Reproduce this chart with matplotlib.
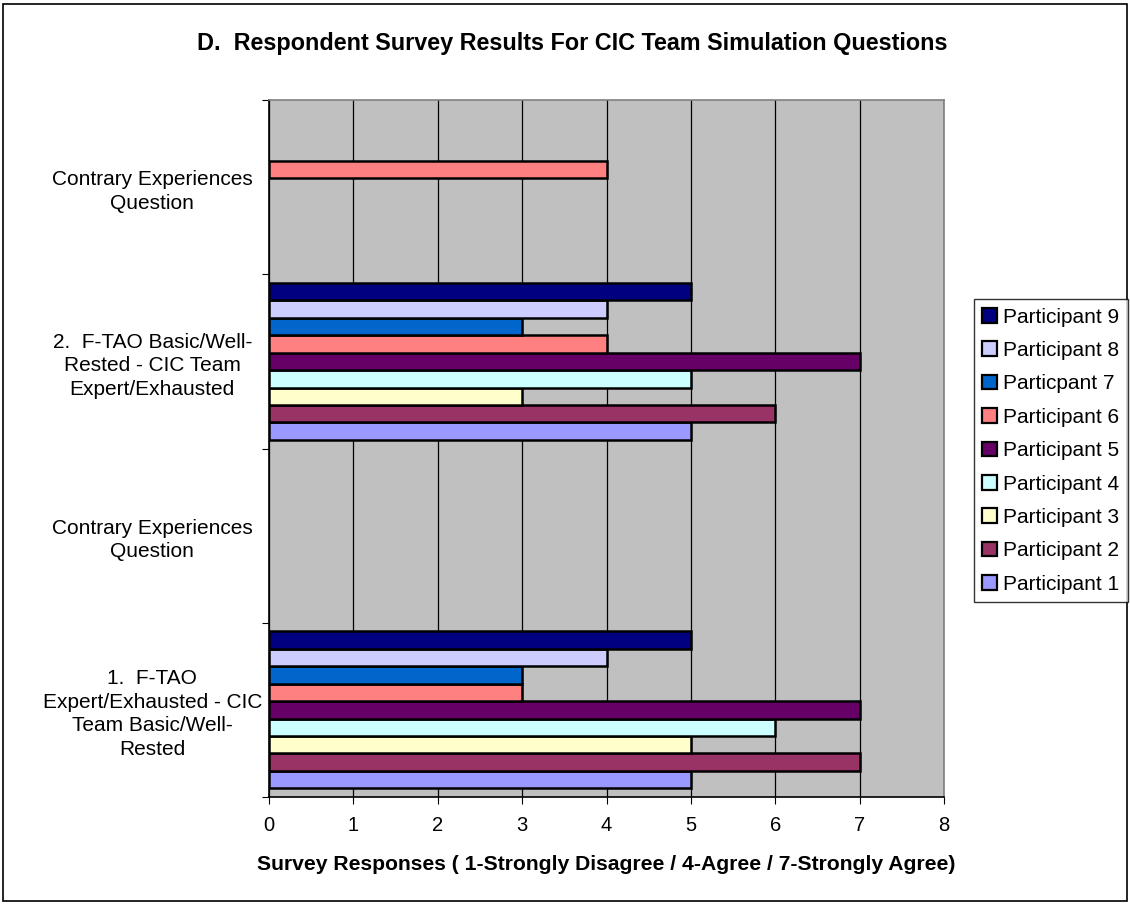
import numpy as np
import matplotlib.pyplot as plt
from matplotlib.patches import Rectangle

plt.rcParams['font.family'] = ['Liberation Sans', 'DejaVu Sans']

categories = ['1.  F-TAO\nExpert/Exhausted - CIC\nTeam Basic/Well-\nRested',
              'Contrary Experiences\nQuestion',
              '2.  F-TAO Basic/Well-\nRested - CIC Team\nExpert/Exhausted',
              'Contrary Experiences\nQuestion']
participants = ['Participant 1', 'Participant 2', 'Participant 3', 'Participant 4',
                'Participant 5', 'Participant 6', 'Particpant 7', 'Participant 8',
                'Participant 9']
# one list per participant, values for the four categories (None = no answer)
p1 = [5, None, 5, None]
p2 = [7, None, 6, None]
p3 = [5, None, 3, None]
p4 = [6, None, 5, None]
p5 = [7, None, 7, None]
p6 = [3, None, 4, 4]
p7 = [3, None, 3, None]
p8 = [4, None, 4, None]
p9 = [5, None, 5, None]
values = [p1, p2, p3, p4, p5, p6, p7, p8, p9]
colors = ['#9999FF', '#993366', '#FFFFCC', '#CCFFFF', '#660066',
          '#FF8080', '#0066CC', '#CCCCFF', '#000080']

fig = plt.figure(figsize=(11.3, 9.05), dpi=100)
ax = fig.add_axes([0.238, 0.1193, 0.5975, 0.7702])
ax.set_facecolor('#C0C0C0')

h = 0.1
handles = []
for i, (name, vals, c) in enumerate(zip(participants, values, colors)):
    ys = [k + (i - 4) * h for k, v in enumerate(vals) if v is not None]
    ws = [v for v in vals if v is not None]
    ax.barh(ys, ws, height=h, color=c, edgecolor='black', linewidth=1.8, zorder=3)
    handles.append(Rectangle((0, 0), 1, 1, facecolor=c, edgecolor='black', linewidth=1.6))

ax.set_xlim(0, 8)
ax.set_ylim(-0.5, 3.5)
ax.set_xticks(range(9))
ax.tick_params(axis='x', labelsize=14.5, length=5, direction='out', pad=9)
ax.xaxis.grid(True, color='black', linewidth=0.9, zorder=1)

ax.set_yticks([-0.5, 0.5, 1.5, 2.5, 3.5])
ax.set_yticklabels([])
ax.set_yticks(range(4), minor=True)
ax.set_yticklabels(categories, minor=True, fontsize=15, ha='center', linespacing=1.3)
ax.tick_params(axis='y', which='major', length=5, direction='out')
ax.tick_params(axis='y', which='minor', length=0, pad=84)

ax.spines['left'].set_color('black')
ax.spines['bottom'].set_color('black')
ax.spines['top'].set_color('#808080')
ax.spines['right'].set_color('#808080')
for s in ax.spines.values():
    s.set_linewidth(1.2)

ax.set_xlabel('Survey Responses ( 1-Strongly Disagree / 4-Agree / 7-Strongly Agree)',
              fontsize=15.2, fontweight='bold', labelpad=14)
fig.text(0.506, 0.952, 'D.  Respondent Survey Results For CIC Team Simulation Questions',
         ha='center', va='center', fontsize=16.8, fontweight='bold')

leg = fig.legend(handles[::-1], participants[::-1], loc='center left',
                 bbox_to_anchor=(0.862, 0.502), fontsize=15, frameon=True,
                 fancybox=False, edgecolor='black', handlelength=0.7,
                 handleheight=0.7, handletextpad=0.3, labelspacing=0.69,
                 borderpad=0.4, borderaxespad=0)
leg.get_frame().set_linewidth(1.0)

fig.patches.append(Rectangle((0.003, 0.004), 0.994, 0.992, transform=fig.transFigure,
                             fill=False, edgecolor='black', linewidth=1.2))

plt.savefig('out.png', dpi=100)
